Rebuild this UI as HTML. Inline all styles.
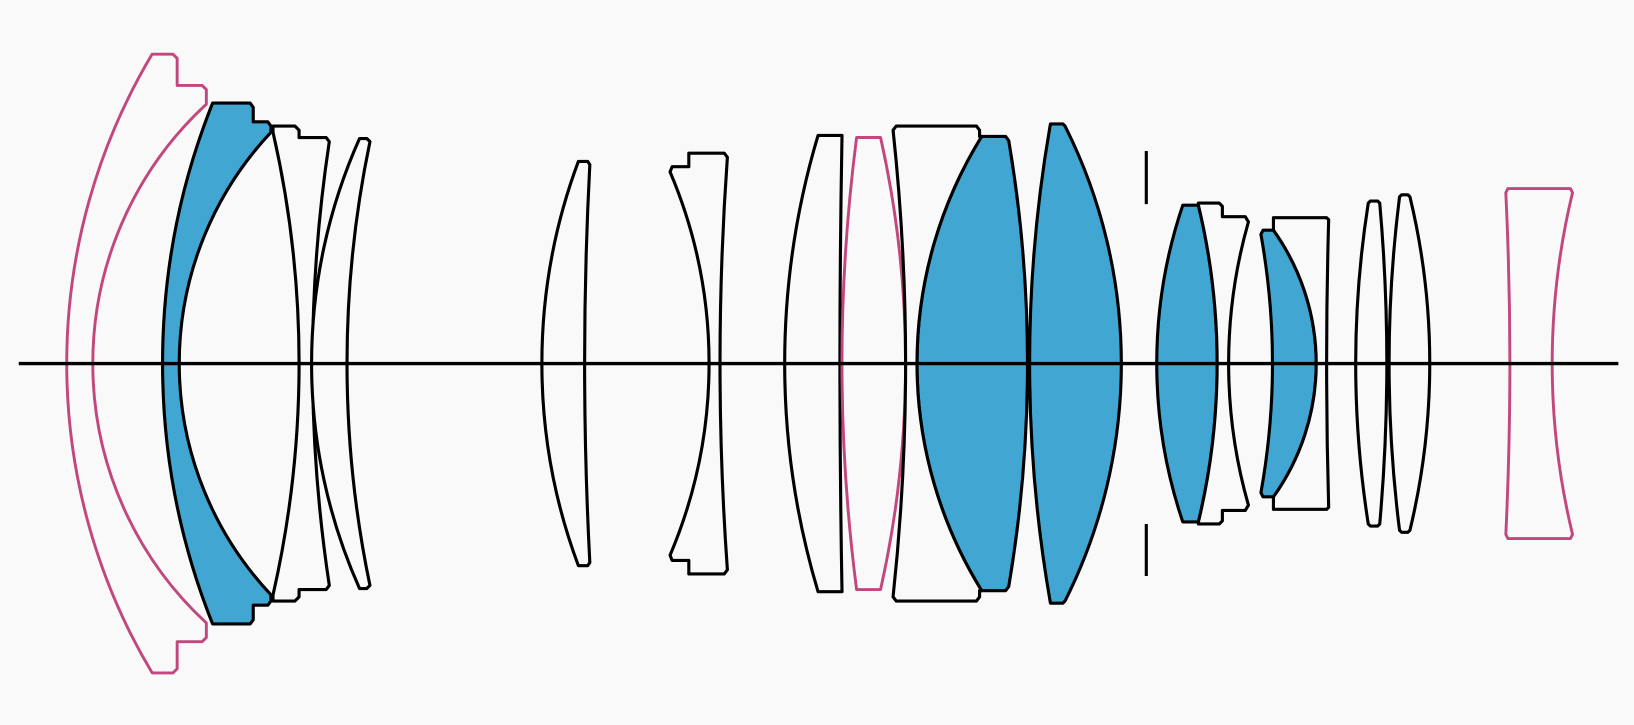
<!DOCTYPE html>
<html><head><meta charset="utf-8"><style>
html,body{margin:0;padding:0;background:#f9f9fa;}
svg{display:block;}
</style></head><body>
<svg width="1634" height="725" viewBox="0 0 1568 696" preserveAspectRatio="none" xmlns="http://www.w3.org/2000/svg">
<rect width="1568" height="696" fill="#f9f9fa"/>
<g fill="none" stroke="#c2477d" stroke-width="2.8" stroke-linejoin="round">
<path d="M146,52 H166 L170,56 V82 H194 L198,86 V100 A339 339 0 0 0 198,598 V612 L194,616 H170 V642 L166,646 H146 A579 579 0 0 1 146,52 Z"/>
</g>
<g stroke="#000" stroke-width="3" stroke-linejoin="round" fill="#f9f9fa">
<path fill="#42a6d3" d="M204,99 H240 L243,103 V117 H257 L260,121 V127 A324 324 0 0 0 260,571 V577 L257,581 H243 V595 L240,599 H204 A675 675 0 0 1 204,99 Z"/>
<path d="M262,121 H283 L287,125 V132 H313 L316,136 A1426 1426 0 0 0 316,562 L313,566 H287 V573 L283,577 H262 V571 A998 998 0 0 0 262,127 Z"/>
<path d="M345,133 H352 L355,136 A1042 1042 0 0 0 355,562 L352,565 H345 A530 530 0 0 1 345,133 Z"/>
<path d="M555,155 H564 L566,158 A3651 3651 0 0 0 566,540 L564,543 H555 A555 555 0 0 1 555,155 Z"/>
<path d="M643,165 L645,160 H661 V147 H695 L698,151 A2776 2776 0 0 0 698,547 L695,551 H661 V538 H645 L643,533 A471 471 0 0 0 643,165 Z"/>
<path d="M785,130 H808 A11991 11991 0 0 0 808,568 H785 A765 765 0 0 1 785,130 Z"/>
</g>
<path d="M822,132 H845 A993 993 0 0 1 845,566 H822 A1689 1689 0 0 1 822,132 Z" fill="#f9f9fa" stroke="#c2477d" stroke-width="2.8" stroke-linejoin="round"/>
<g stroke="#000" stroke-width="3" stroke-linejoin="round" fill="#f9f9fa">
<path fill="#42a6d3" d="M942,131 H965 L968,135 A1281 1281 0 0 1 968,563 L965,567 H942 A414 414 0 0 1 942,131 Z"/>
<path d="M860,121 H937 L940,125 V131 H942 A414 414 0 0 0 942,567 H940 V573 L937,577 H860 L857,573 A2097 2097 0 0 0 857,125 Z"/>
<path fill="#42a6d3" d="M1008,119 H1020 L1022,121 A508 508 0 0 1 1022,577 L1020,579 H1008 A1333 1333 0 0 1 1008,119 Z"/>
<path fill="#42a6d3" d="M1135,197 H1150 A651 651 0 0 1 1150,501 H1135 A475 475 0 0 1 1135,197 Z"/>
<path d="M1150,197 L1150,195 H1170 L1173,198 V208 H1195 L1198,213 A496 496 0 0 0 1198,485 L1195,490 H1173 V500 L1170,503 H1150 V501 A651 651 0 0 0 1150,197 Z"/>
<path fill="#42a6d3" d="M1210,225 L1212,221 H1222 A220 220 0 0 1 1222,477 H1212 L1210,473 A704 704 0 0 0 1210,225 Z"/>
<path d="M1222,221 V209 H1273 L1275,211 A4831 4831 0 0 0 1275,487 L1273,489 H1222 V477 A220 220 0 0 0 1222,221 Z"/>
<path d="M1313,195 L1315,193 H1322 L1324,195 A1742 1742 0 0 1 1324,503 L1322,505 H1315 L1313,503 A994 994 0 0 1 1313,195 Z"/>
<path d="M1343,189 L1345,187 H1351 L1353,189 A683 683 0 0 1 1353,509 L1351,511 H1345 L1343,509 A1285 1285 0 0 1 1343,189 Z"/>
<path fill="none" d="M1100,145 V196 M1100,503 V553"/>
</g>
<path d="M1447,181 H1507 L1509,185 A699 699 0 0 0 1509,513 L1507,517 H1447 L1445,513 A3447 3447 0 0 0 1445,185 Z" fill="none" stroke="#c2477d" stroke-width="2.8" stroke-linejoin="round"/>
<line x1="18" y1="349" x2="1553" y2="349" stroke="#000" stroke-width="3.2"/>
</svg>
</body></html>
